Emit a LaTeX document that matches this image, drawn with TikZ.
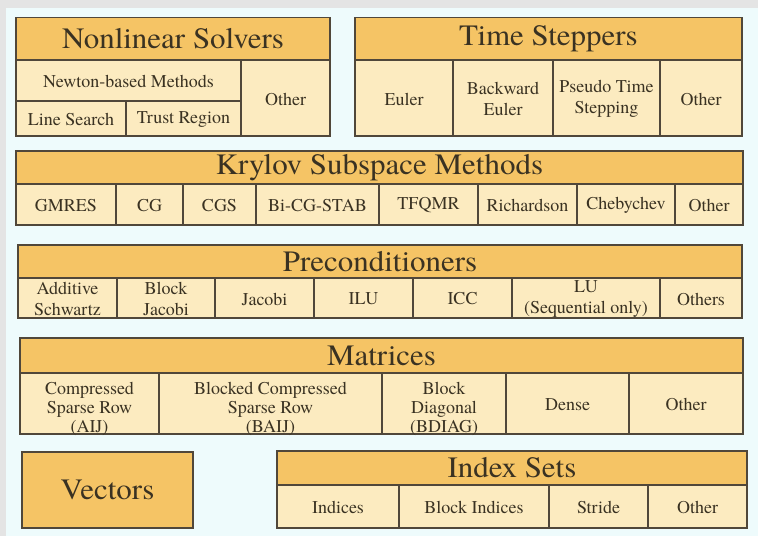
\documentclass[tikz,border=0pt]{standalone}
\usepackage{fontspec}
\setmainfont{texgyretermes}[Extension=.otf, UprightFont=*-regular,
  BoldFont=*-bold, ItalicFont=*-italic, BoldItalicFont=*-bolditalic]
\newfontfamily\headfont{texgyretermes}[Extension=.otf,
  UprightFont=*-regular, FakeStretch=1.05]

\definecolor{pagegray}{HTML}{E4E4E4}
\definecolor{pagebg}{HTML}{EEFBFC}
\definecolor{headfill}{HTML}{F5C465}
\definecolor{cellfill}{HTML}{FCEBC0}
\definecolor{rule}{HTML}{50473A}
\definecolor{ink}{HTML}{3A3222}

% \blk[text style]{name}{x1}{y1}{x2}{y2}{text}: a box between two corners, text centred in it
\newcommand{\blk}[7][]{%
  \node[box, minimum width={(#5)-(#3)}, minimum height={(#6)-(#4)}]
    (#2) at ({((#3)+(#5))/2},{((#4)+(#6))/2}) {};
  \node[cell text, #1] (#2-t) at (#2.center) {#7};
}
% \hblk{name}{x1}{y1}{x2}{y2}{text}: a heading box
\newcommand{\hblk}[6]{%
  \node[box, fill=headfill, minimum width={(#4)-(#2)}, minimum height={(#5)-(#3)}]
    (#1) at ({((#2)+(#4))/2},{((#3)+(#5))/2}) {};
  \node[head text] (#1-t) at (#1.center) {#6};
}

\begin{document}
\begin{tikzpicture}[x=1pt, y=-1pt,
  box/.style={draw=rule, line width=1.5pt, inner sep=0pt, fill=cellfill},
  cell text/.style={inner sep=0pt, text=ink, align=center, yshift=-1pt,
    font=\fontsize{18}{21}\selectfont},
  head text/.style={inner sep=0pt, text=ink, font=\headfont\fontsize{29.5}{32}\selectfont},
  mat/.style={font=\fontsize{18}{19}\selectfont, yshift=-4pt}]

\useasboundingbox (0,0) rectangle (758,536);
\fill[pagegray] (0,0) rectangle (758,536);
\fill[pagebg] (6,8) rectangle (758,536);

% Nonlinear solvers
\hblk{nls}{16}{17.5}{330}{60}{Nonlinear Solvers}
\blk{newton}{16}{60}{241}{101}{Newton-based Methods}
\blk{ls}{16}{101}{126}{136}{Line Search}
\blk{tr}{126}{101}{241}{136}{Trust Region}
\blk{nlsother}{241}{60}{330}{136}{Other}

% Time steppers
\hblk{ts}{355}{17.5}{742}{60}{Time Steppers}
\blk{euler}{355}{60}{453}{136}{Euler}
\blk{beuler}{453}{60}{553}{136}{Backward\\Euler}
\blk{pseudo}{553}{60}{660}{136}{Pseudo Time\\Stepping}
\blk{tsother}{660}{60}{742}{136}{Other}

% Krylov subspace methods
\hblk{ksp}{16}{151}{743}{184}{Krylov Subspace Methods}
\blk{gmres}{16}{184}{116}{225}{GMRES}
\blk{cg}{116}{184}{183}{225}{CG}
\blk{cgs}{183}{184}{256}{225}{CGS}
\blk{bicg}{256}{184}{379}{225}{Bi-CG-STAB}
\blk{tfqmr}{379}{184}{478}{225}{TFQMR}
\blk{rich}{478}{184}{577}{225}{Richardson}
\blk{cheb}{577}{184}{675}{225}{Chebychev}
\blk{kspother}{675}{184}{743}{225}{Other}

% Preconditioners
\hblk{pc}{18}{245}{742}{278}{Preconditioners}
\blk{asm}{18}{278}{117}{318}{Additive\\Schwartz}
\blk{bjacobi}{117}{278}{215}{318}{Block\\Jacobi}
\blk{jacobi}{215}{278}{314}{318}{Jacobi}
\blk{ilu}{314}{278}{413}{318}{ILU}
\blk{icc}{413}{278}{512}{318}{ICC}
\blk{lu}{512}{278}{660}{318}{LU\\(Sequential only)}
\blk{pcother}{660}{278}{742}{318}{Others}

% Matrices
\hblk{mat}{20}{338}{743}{373}{Matrices}
\blk[mat]{aij}{20}{373}{159}{434}{Compressed\\Sparse Row\\(AIJ)}
\blk[mat]{baij}{159}{373}{382}{434}{Blocked Compressed\\Sparse Row\\(BAIJ)}
\blk[mat]{bdiag}{382}{373}{506}{434}{Block\\Diagonal\\(BDIAG)}
\blk{dense}{506}{373}{629}{434}{Dense}
\blk{matother}{629}{373}{743}{434}{Other}

% Vectors
\hblk{vec}{22}{452}{193}{528}{Vectors}

% Index sets
\hblk{is}{277}{451}{747}{485}{Index Sets}
\blk{idx}{277}{485}{399}{528}{Indices}
\blk{bidx}{399}{485}{549}{528}{Block Indices}
\blk{stride}{549}{485}{648}{528}{Stride}
\blk{isother}{648}{485}{747}{528}{Other}

\end{tikzpicture}
\end{document}
